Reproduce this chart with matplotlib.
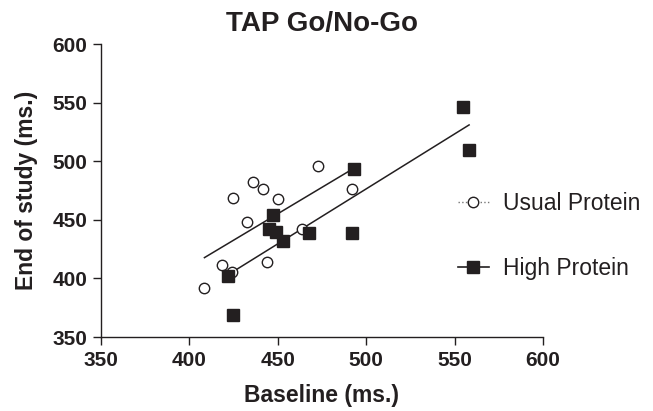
import numpy as np
import matplotlib
matplotlib.use("Agg")
import matplotlib.pyplot as plt
from matplotlib.lines import Line2D

plt.rcParams['font.family'] = ['Liberation Sans', 'DejaVu Sans']

usual_x = [408.5, 418.7, 424.1, 424.8, 432.6, 435.7, 441.8, 449.9, 444.0, 463.6, 473.0, 492.1]
usual_y = [392.1, 411.1, 405.2, 468.9, 447.8, 482.0, 476.3, 468.0, 414.0, 442.1, 495.9, 476.3]
high_x = [421.8, 424.8, 444.9, 447.3, 448.7, 452.7, 467.8, 493.1, 492.1, 554.9, 558.2]
high_y = [401.8, 369.1, 442.4, 453.8, 439.3, 431.9, 438.7, 493.3, 438.7, 546.0, 509.8]
labels = ["Usual Protein", "High Protein"]
xticks = [350, 400, 450, 500, 550, 600]
yticks = [350, 400, 450, 500, 550, 600]

C = '#231f20'
fig = plt.figure(figsize=(6.53, 4.11), dpi=100)
ax = fig.add_axes([101/653, 1-337/411, (543-101)/653, (337-44)/411])

for xs, ys in [(usual_x, usual_y), (high_x, high_y)]:
    xs = np.array(xs); ys = np.array(ys)
    m, b = np.polyfit(xs, ys, 1)
    xl = np.array([xs.min(), xs.max()])
    ax.plot(xl, m*xl + b, color=C, lw=1.1, zorder=2)

ax.plot(usual_x, usual_y, 'o', ms=7.5, mfc='white', mec=C, mew=1.0, ls='none', zorder=3)
ax.plot(high_x, high_y, 's', ms=8, mfc=C, mec=C, ls='none', zorder=3)

ax.set_xlim(350, 600)
ax.set_ylim(350, 600)
ax.set_xticks(xticks)
ax.set_yticks(yticks)
for s in ['top', 'right']:
    ax.spines[s].set_visible(False)
for s in ['left', 'bottom']:
    ax.spines[s].set_color(C)
    ax.spines[s].set_linewidth(1.0)
ax.tick_params(direction='out', length=6, width=1.0, color=C, labelsize=15, labelcolor=C, pad=4)
for t in ax.get_xticklabels() + ax.get_yticklabels():
    t.set_fontweight('bold')
ax.set_xlabel("Baseline (ms.)", fontsize=16.5, fontweight='bold', color=C, labelpad=10)
ax.set_ylabel("End of study (ms.)", fontsize=16.5, fontweight='bold', color=C, labelpad=10)
ax.set_title("TAP Go/No-Go", fontsize=20, fontweight='bold', color=C, pad=9)

handles = [Line2D([], [], color='#777777', ls=':', lw=1.0, marker='o', ms=7.5, mfc='white', mec=C, mew=1.0),
           Line2D([], [], color=C, ls='-', lw=1.2, marker='s', ms=8, mfc=C, mec=C)]
fig.legend(handles, labels, loc='center left', bbox_to_anchor=(458/653, 1-236/411), frameon=False,
           borderpad=0, borderaxespad=0,
           fontsize=16.5, handlelength=1.35, handletextpad=0.6, labelspacing=1.85, labelcolor=C)

fig.savefig("out.png", dpi=100)
